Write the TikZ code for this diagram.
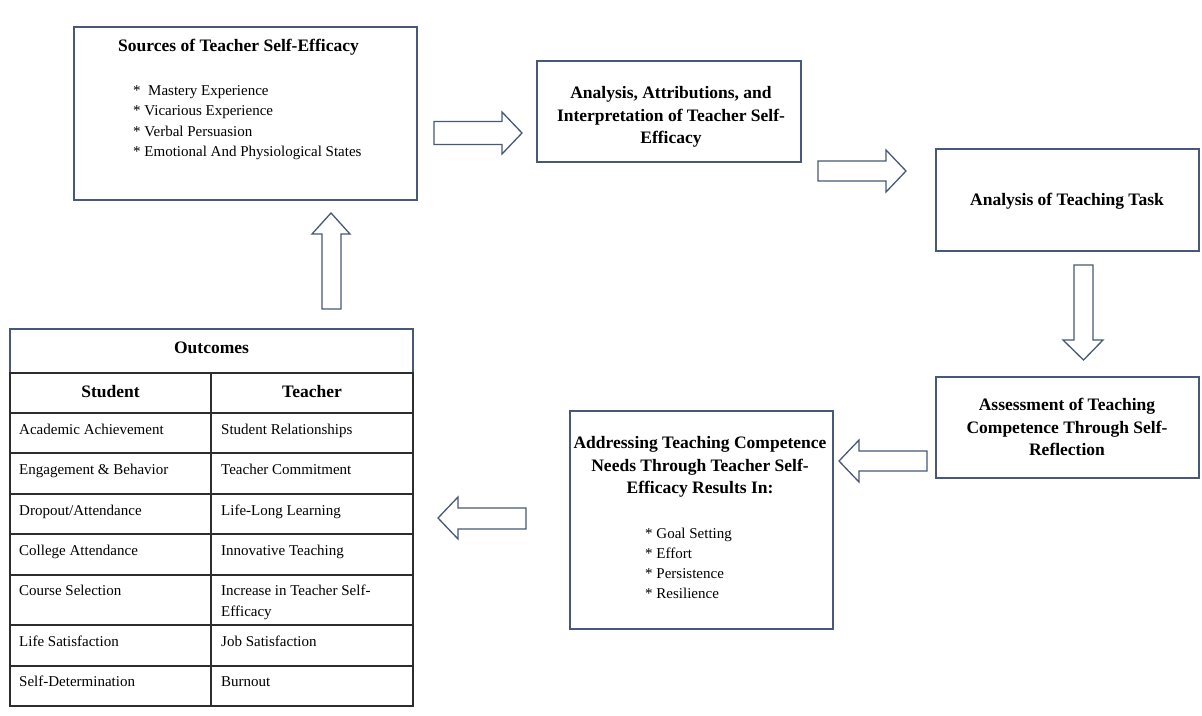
\documentclass[tikz,border=0pt]{standalone}
\usepackage{fontspec}
\setmainfont{Liberation Serif}
\definecolor{boxblue}{RGB}{72,88,120}
\definecolor{gridgray}{RGB}{45,45,45}
\tikzset{
  boxnode/.style={draw=boxblue, line width=1.4pt, fill=white, inner sep=0pt},
  blockarrow/.style={draw=boxblue, line width=1.3pt, fill=white, line join=miter},
  headtext/.style={font=\fontsize{17.5}{22.5}\selectfont\bfseries, align=center, inner sep=0pt},
  listtext/.style={font=\fontsize{15}{20.5}\selectfont, inner sep=0pt, anchor=base west},
  celltext/.style={font=\fontsize{15}{21}\selectfont, inner sep=0pt, anchor=base west},
  cellhead/.style={font=\fontsize{17.5}{22}\selectfont\bfseries, inner sep=0pt, anchor=base},
  gridline/.style={draw=gridgray, line width=1.5pt}
}
\begin{document}
\begin{tikzpicture}[x=1pt,y=-1pt]
\useasboundingbox (0,0) rectangle (1202,715);

% ---------- Box 1: Sources ----------
\node[boxnode, minimum width=343pt, minimum height=173pt] (src) at (245.5,113.5) {};
\node[headtext, anchor=base] (srct) at (238.5,51) {Sources of Teacher Self-Efficacy};
\node[listtext] (s1) at (133,95) {*\ \ Mastery Experience};
\node[listtext] (s2) at (133,115.5) {* Vicarious Experience};
\node[listtext] (s3) at (133,136) {* Verbal Persuasion};
\node[listtext] (s4) at (133,156.5) {* Emotional And Physiological States};

% ---------- Box 2: Analysis ----------
\node[boxnode, minimum width=264pt, minimum height=101pt] (ana) at (669,111.5) {};
\node[headtext] (anat) at (671,117) {Analysis, Attributions, and\\Interpretation of Teacher Self-\\Efficacy};

% ---------- Box 3: Task ----------
\node[boxnode, minimum width=263pt, minimum height=102pt] (task) at (1067.5,200) {};
\node[headtext] (taskt) at (1067,201) {Analysis of Teaching Task};

% ---------- Box 4: Assessment ----------
\node[boxnode, minimum width=263pt, minimum height=101pt] (ass) at (1067.5,427.5) {};
\node[headtext] (asst) at (1067,427) {Assessment of Teaching\\Competence Through Self-\\Reflection};

% ---------- Box 5: Addressing ----------
\node[boxnode, minimum width=263pt, minimum height=218pt] (adr) at (701.5,520) {};
\node[headtext] (adrt) at (700,467) {Addressing Teaching Competence\\Needs Through Teacher Self-\\Efficacy Results In:};
\node[listtext] (a1) at (645,538.5) {* Goal Setting};
\node[listtext] (a2) at (645,558.5) {* Effort};
\node[listtext] (a3) at (645,578.5) {* Persistence};
\node[listtext] (a4) at (645,598.5) {* Resilience};

% ---------- Block arrows ----------
\draw[blockarrow] (434,121.5) -- (502,121.5) -- (502,112) -- (522,133) -- (502,154) -- (502,144.5) -- (434,144.5) -- cycle;
\draw[blockarrow] (818,161) -- (886,161) -- (886,150) -- (906,171) -- (886,192) -- (886,181) -- (818,181) -- cycle;
\draw[blockarrow] (1074,265) -- (1093,265) -- (1093,340) -- (1103,340) -- (1083.5,360) -- (1063,340) -- (1074,340) -- cycle;
\draw[blockarrow] (927,451) -- (859,451) -- (859,440) -- (839,461) -- (859,482) -- (859,471) -- (927,471) -- cycle;
\draw[blockarrow] (526,508) -- (458,508) -- (458,497) -- (438,518) -- (458,539) -- (458,529) -- (526,529) -- cycle;
\draw[blockarrow] (322,309) -- (322,234) -- (312,234) -- (331,213) -- (350,234) -- (341,234) -- (341,309) -- cycle;

% ---------- Outcomes table ----------
\node[draw=none, fill=white, minimum width=403pt, minimum height=377pt, inner sep=0pt] (tab) at (211.5,517.5) {};
\draw[draw=boxblue, line width=1.4pt] (10,373) -- (10,329) -- (413,329) -- (413,373);
\draw[gridline] (10,373) rectangle (413,706);
\foreach \yy in {413,453,494,534,575,625,666} {\draw[gridline] (10,\yy) -- (413,\yy);}
\draw[gridline] (211,373) -- (211,706);

\node[cellhead] (outc) at (211.5,353) {Outcomes};
\node[cellhead] (stud) at (110.5,397) {Student};
\node[cellhead] (teach) at (312,397) {Teacher};

\node[celltext] (c11) at (19,434) {Academic Achievement};
\node[celltext] (c12) at (221,434) {Student Relationships};
\node[celltext] (c21) at (19,474.5) {Engagement \& Behavior};
\node[celltext] (c22) at (221,474.5) {Teacher Commitment};
\node[celltext] (c31) at (19,515) {Dropout/Attendance};
\node[celltext] (c32) at (221,515) {Life-Long Learning};
\node[celltext] (c41) at (19,555.5) {College Attendance};
\node[celltext] (c42) at (221,555.5) {Innovative Teaching};
\node[celltext] (c51) at (19,595.5) {Course Selection};
\node[celltext] (c52) at (221,595.5) {Increase in Teacher Self-};
\node[celltext] (c52b) at (221,616) {Efficacy};
\node[celltext] (c61) at (19,646) {Life Satisfaction};
\node[celltext] (c62) at (221,646) {Job Satisfaction};
\node[celltext] (c71) at (19,686.5) {Self-Determination};
\node[celltext] (c72) at (221,686.5) {Burnout};
\end{tikzpicture}
\end{document}
